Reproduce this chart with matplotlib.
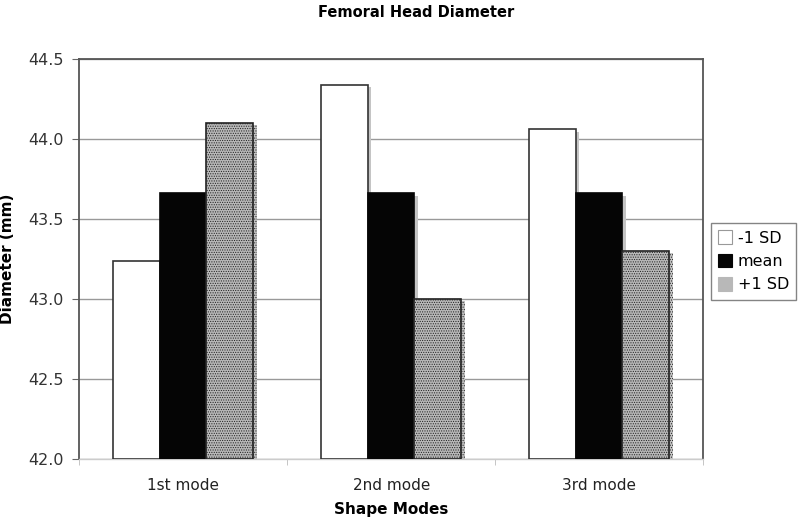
import matplotlib
matplotlib.use("Agg")
import matplotlib.pyplot as plt
import matplotlib.patheffects as pe
from matplotlib.patches import Patch
import numpy as np

# Dati
modes = ["1st mode", "2nd mode", "3rd mode"]
minus_sd = [43.24, 44.34, 44.06]
mean = [43.66, 43.66, 43.66]
plus_sd = [44.10, 43.00, 43.30]
series_labels = ["-1 SD", "mean", "+1 SD"]

plt.rcParams['font.family'] = ['DejaVu Sans']
plt.rcParams['hatch.color'] = '#858585'
plt.rcParams['hatch.linewidth'] = 0.5

fig = plt.figure(figsize=(8, 5.27), dpi=100)
ax = fig.add_axes([0.099, 0.129, 0.78, 0.759])

x = np.arange(len(modes))
width = 0.224
shadow = [pe.SimplePatchShadow(offset=(2.5, -1.5), shadow_rgbFace='#c4c4c4', alpha=1.0), pe.Normal()]

ax.bar(x - width, np.array(minus_sd) - 42, width, bottom=42, color='white', edgecolor='#333333',
       linewidth=1.2, path_effects=shadow, zorder=3)
ax.bar(x, np.array(mean) - 42, width, bottom=42, color='#050505', edgecolor='#050505',
       linewidth=1.2, path_effects=shadow, zorder=3)
ax.bar(x + width, np.array(plus_sd) - 42, width, bottom=42, color='#b8b8b8', edgecolor='#222222',
       hatch='.......', linewidth=1.2, path_effects=shadow, zorder=3)

ax.set_xlim(-0.5, 2.5)
ax.set_ylim(42.0, 44.5)
ax.set_yticks(np.arange(42.0, 44.51, 0.5))
ax.set_yticklabels([f"{v:.1f}" for v in np.arange(42.0, 44.51, 0.5)], fontsize=11.5, color='#333333')
ax.set_xticks(x)
ax.set_xticklabels(modes, fontsize=11, color='#222222')
ax.set_xticks([-0.5, 0.5, 1.5, 2.5], minor=True)
ax.tick_params(axis='x', which='major', length=0, pad=14)
ax.tick_params(axis='x', which='minor', length=4, color='#bbbbbb', direction='out')
ax.tick_params(axis='y', length=5, color='#666666', direction='out', pad=6)

ax.grid(axis='y', color='#999999', linewidth=1.0, zorder=0)
ax.set_axisbelow(True)
for side in ['top', 'right', 'left']:
    ax.spines[side].set_color('#555555')
    ax.spines[side].set_linewidth(1.3)
ax.spines['bottom'].set_color('#cccccc')
ax.spines['bottom'].set_linewidth(1.0)

fig.text(0.52, 0.977, 'Femoral Head Diameter', fontsize=10.5, fontweight='bold', ha='center', va='center')
ax.set_xlabel('Shape Modes', fontsize=11, fontweight='bold', labelpad=6)
ax.set_ylabel('Diameter (mm)', fontsize=11, fontweight='bold', labelpad=10)

handles = [
    Patch(facecolor='white', edgecolor='#999999', linewidth=0.8),
    Patch(facecolor='#050505', edgecolor='#050505', linewidth=0.8),
    Patch(facecolor='#b8b8b8', edgecolor='#b8b8b8', hatch='.......', linewidth=0.8),
]
leg = ax.legend(handles, series_labels, loc='upper left', bbox_to_anchor=(1.013, 0.59), fontsize=11.5,
                frameon=True, fancybox=False, edgecolor='#666666', handlelength=0.85, handleheight=0.95,
                handletextpad=0.35, borderpad=0.45, labelspacing=0.5, borderaxespad=0)
leg.get_frame().set_linewidth(1.0)

plt.savefig("out.png", dpi=100)
